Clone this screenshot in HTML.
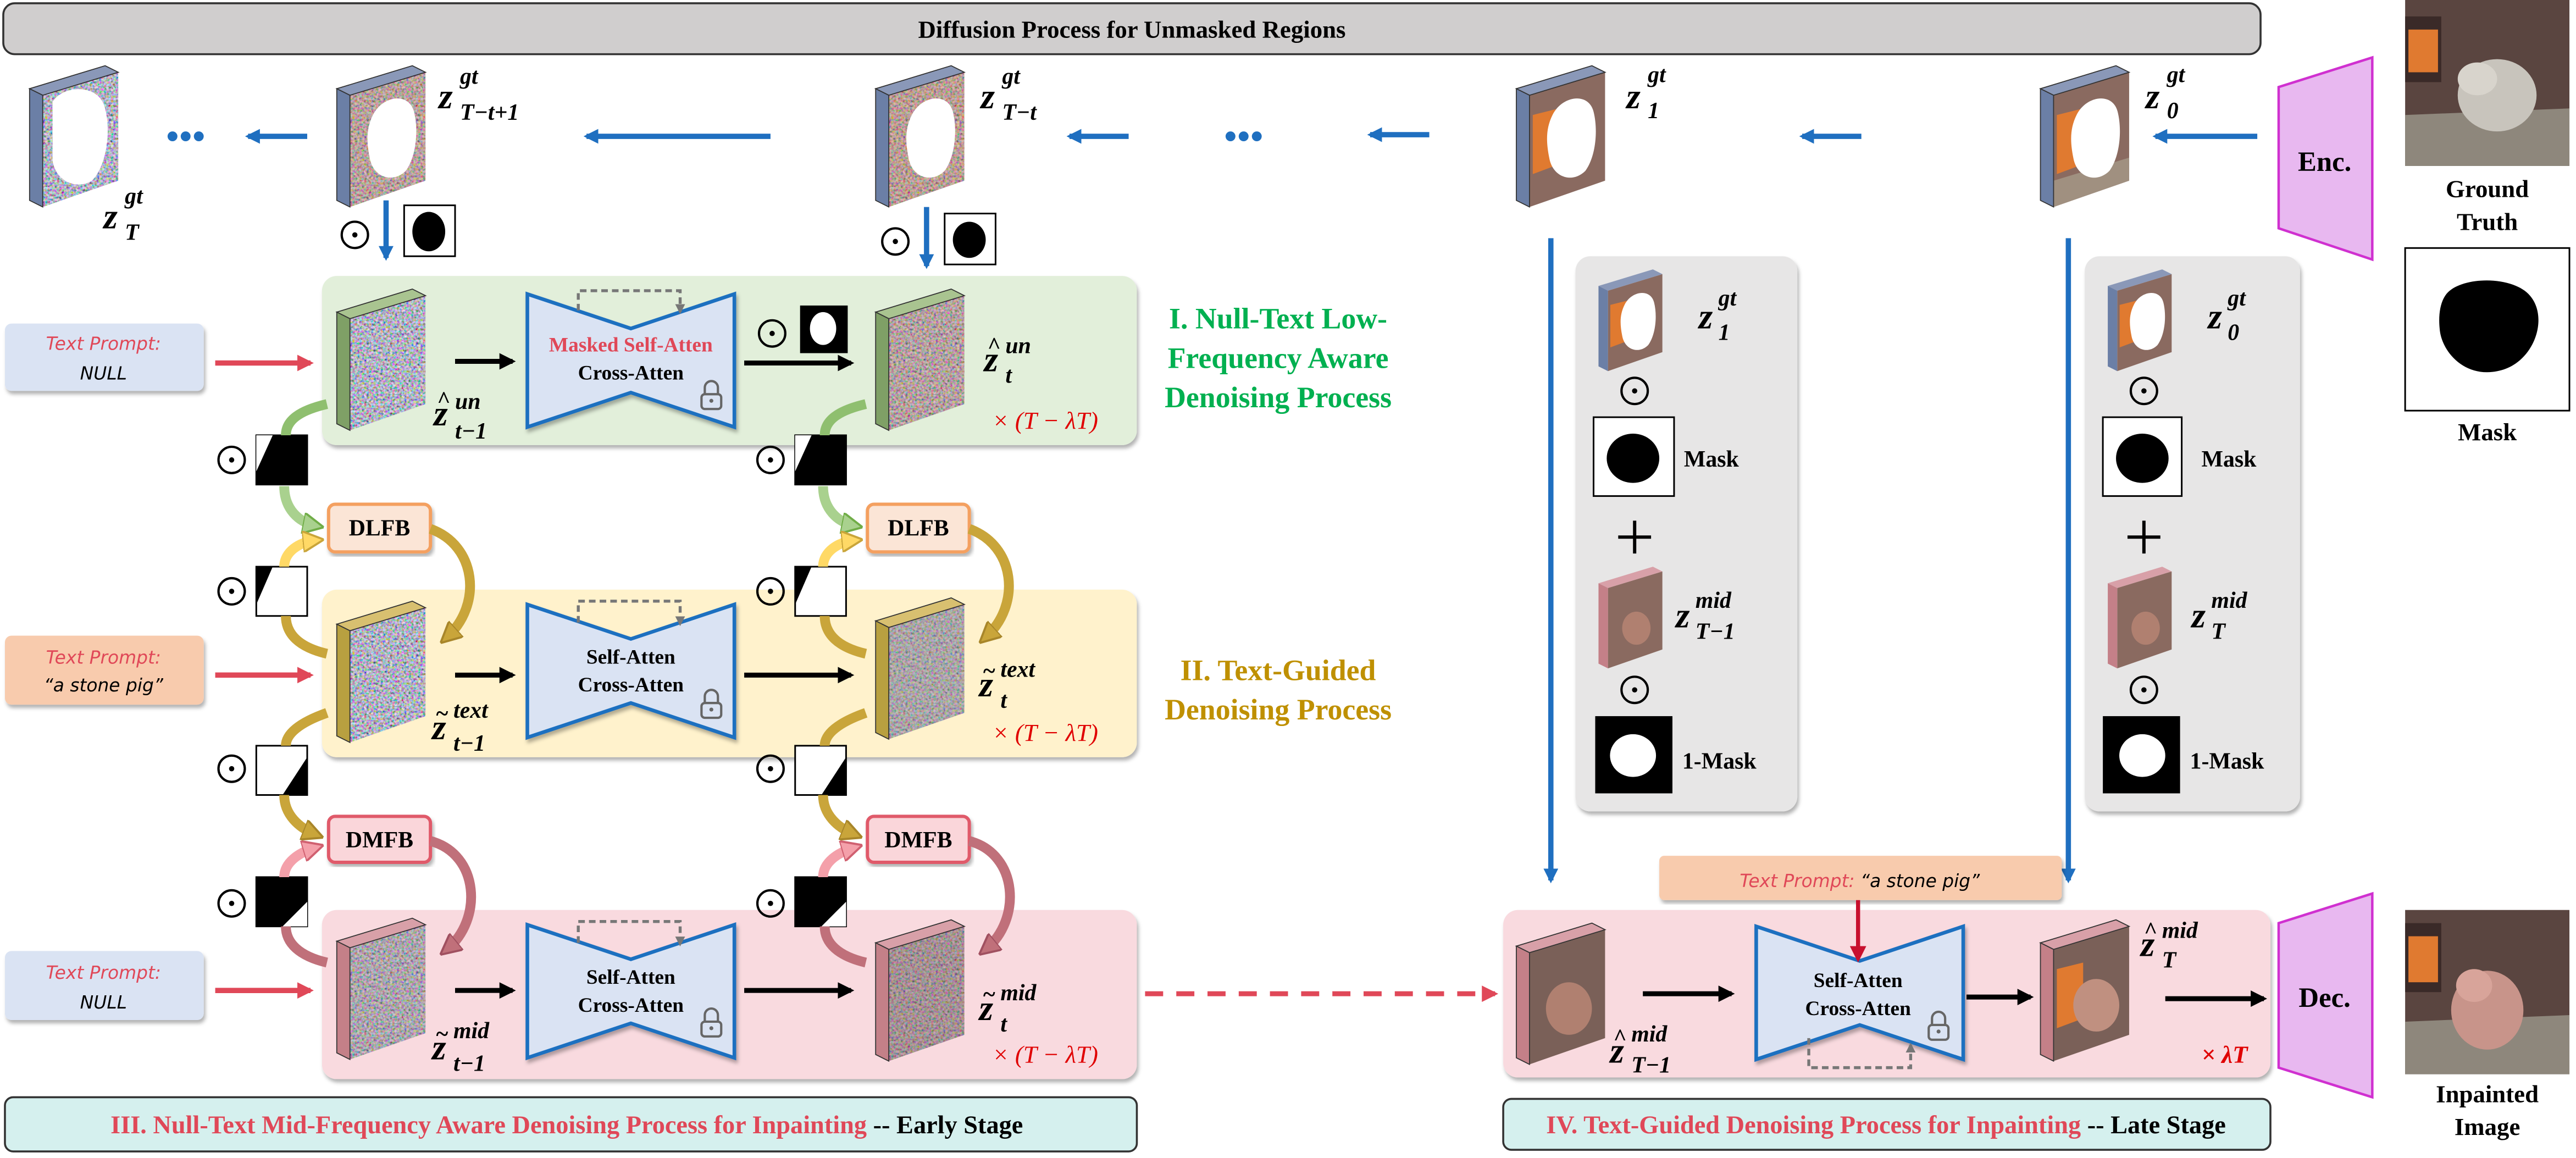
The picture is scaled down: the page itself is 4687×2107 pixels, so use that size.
<!DOCTYPE html>
<html><head><meta charset="utf-8"><style>
html,body{margin:0;padding:0;background:#fff;}
svg{display:block;}
.b{font-family:"Liberation Serif",serif;font-weight:bold;}
.m{font-family:"Liberation Serif",serif;font-weight:bold;font-style:italic;font-size:22px;}
.s{font-family:"Liberation Serif",serif;font-weight:bold;font-style:italic;font-size:14px;}
.tp{font-family:"DejaVu Sans",sans-serif;font-size:11px;font-style:italic;}
</style></head><body>
<svg width="4687" height="2107" viewBox="0 0 1568 705" preserveAspectRatio="none" xmlns="http://www.w3.org/2000/svg">
<defs>
<filter id="nz" x="0" y="0" width="1" height="1" filterUnits="objectBoundingBox">
<feTurbulence type="fractalNoise" baseFrequency="0.7" numOctaves="2" seed="4"/>
<feColorMatrix type="matrix" values="1.6 0 0 0 -0.35  0 1.4 0 0 -0.25  0 0 1.7 0 -0.3  0 0 0 0 1"/>
<feComposite operator="in" in2="SourceGraphic"/>
</filter>
<filter id="sh" x="-5%" y="-5%" width="110%" height="115%"><feDropShadow dx="1" dy="2" stdDeviation="1.2" flood-color="#000" flood-opacity="0.3"/></filter>
<polygon id="fr" points="8,18 54,4 54,70 8,86"/>
<polygon id="tp" points="0,14 46,0 54,4 8,18"/>
<polygon id="sd" points="0,14 8,18 8,86 0,82"/>
<g id="face"><use href="#fr" fill="#888" filter="url(#nz)"/></g>
<path id="hole" d="M22,30 C28,18 44,16 47,28 C50,40 48,56 42,64 C34,72 22,68 20,56 C18,46 18,38 22,30Z" fill="#fff"/>
<marker id="ab" viewBox="0 0 10 10" refX="8" refY="5" markerWidth="9" markerHeight="9" markerUnits="userSpaceOnUse" orient="auto"><path d="M0,0 L10,5 L0,10Z" fill="#1f6fc0"/></marker>
<marker id="ak" viewBox="0 0 10 10" refX="8" refY="5" markerWidth="10" markerHeight="10" markerUnits="userSpaceOnUse" orient="auto"><path d="M0,0 L10,5 L0,10Z" fill="#000"/></marker>
<marker id="ar" viewBox="0 0 10 10" refX="8" refY="5" markerWidth="10" markerHeight="10" markerUnits="userSpaceOnUse" orient="auto"><path d="M0,0 L10,5 L0,10Z" fill="#e04858"/></marker>
<marker id="ar2" viewBox="0 0 10 10" refX="8" refY="5" markerWidth="10" markerHeight="10" markerUnits="userSpaceOnUse" orient="auto"><path d="M0,0 L10,5 L0,10Z" fill="#c8102e"/></marker>
<marker id="ag" viewBox="0 0 10 10" refX="8" refY="5" markerWidth="6" markerHeight="6" markerUnits="userSpaceOnUse" orient="auto"><path d="M0,0 L10,5 L0,10Z" fill="#777"/></marker>
<marker id="hg" viewBox="0 0 10 10" refX="6" refY="5" markerWidth="13" markerHeight="13" markerUnits="userSpaceOnUse" orient="auto"><path d="M0,0 L10,5 L0,10Z" fill="#a9d18e" stroke="#70ad47"/></marker>
<marker id="hy" viewBox="0 0 10 10" refX="6" refY="5" markerWidth="13" markerHeight="13" markerUnits="userSpaceOnUse" orient="auto"><path d="M0,0 L10,5 L0,10Z" fill="#ffd966" stroke="#c9a53a"/></marker>
<marker id="ho" viewBox="0 0 10 10" refX="6" refY="5" markerWidth="13" markerHeight="13" markerUnits="userSpaceOnUse" orient="auto"><path d="M0,0 L10,5 L0,10Z" fill="#c9a53a" stroke="#a8862a"/></marker>
<marker id="hp" viewBox="0 0 10 10" refX="6" refY="5" markerWidth="13" markerHeight="13" markerUnits="userSpaceOnUse" orient="auto"><path d="M0,0 L10,5 L0,10Z" fill="#f4a0aa" stroke="#d06070"/></marker>
<marker id="hq" viewBox="0 0 10 10" refX="6" refY="5" markerWidth="13" markerHeight="13" markerUnits="userSpaceOnUse" orient="auto"><path d="M0,0 L10,5 L0,10Z" fill="#c0707a" stroke="#a05060"/></marker>
<g id="od"><circle r="8" fill="none" stroke="#000" stroke-width="1.4"/><circle r="1.6" fill="#000"/></g>
<g id="lock"><path d="M-4,0 V-4 A4,4 0 0 1 4,-4 V0" fill="none" stroke="#666" stroke-width="1.4"/><rect x="-6" y="0" width="12" height="9" rx="2" fill="none" stroke="#666" stroke-width="1.4"/><circle cy="4" r="1.2" fill="#666"/></g>
<g id="col">
 <use href="#od" x="141" y="280"/>
 <rect x="156" y="265" width="31" height="30" fill="#000" stroke="#000"/><polygon points="156,265 166,265 156,287" fill="#fff"/>
 <use href="#od" x="141" y="360"/>
 <rect x="156" y="345" width="31" height="30" fill="#fff" stroke="#000"/><polygon points="156,345 166,345 156,368" fill="#000"/>
 <use href="#od" x="141" y="468"/>
 <rect x="156" y="454" width="31" height="30" fill="#fff" stroke="#000"/><polygon points="187,461 187,484 172,484" fill="#000"/>
 <use href="#od" x="141" y="550"/>
 <rect x="156" y="534" width="31" height="30" fill="#000" stroke="#000"/><polygon points="187,549 187,564 172,564" fill="#fff"/>
 <rect x="200" y="307" width="62" height="29" rx="4" fill="#fbe5d6" stroke="#f4a060" stroke-width="2" filter="url(#sh)"/>
 <text x="231" y="326" class="b" font-size="14" text-anchor="middle">DLFB</text>
 <rect x="200" y="497" width="62" height="28" rx="4" fill="#fad6da" stroke="#e05a6a" stroke-width="2" filter="url(#sh)"/>
 <text x="231" y="516" class="b" font-size="14" text-anchor="middle">DMFB</text>
 <path d="M199,246 C182,250 174,256 174,265" fill="none" stroke="#8fbf6f" stroke-width="6"/>
 <path d="M173,296 C173,310 182,318 192,320" fill="none" stroke="#a9d18e" stroke-width="6" marker-end="url(#hg)"/>
 <path d="M199,398 C182,394 174,386 174,375" fill="none" stroke="#c9a53a" stroke-width="6"/>
 <path d="M173,345 C173,336 182,330 192,329" fill="none" stroke="#ffd966" stroke-width="6" marker-end="url(#hy)"/>
 <path d="M262,322 C290,332 294,368 272,388" fill="none" stroke="#c9a53a" stroke-width="6" marker-end="url(#ho)"/>
 <path d="M199,434 C182,440 174,447 174,454" fill="none" stroke="#c9a53a" stroke-width="6"/>
 <path d="M173,484 C173,496 182,504 192,508" fill="none" stroke="#c9a53a" stroke-width="6" marker-end="url(#ho)"/>
 <path d="M199,586 C182,582 174,574 174,564" fill="none" stroke="#c0707a" stroke-width="6"/>
 <path d="M173,534 C173,525 182,519 192,516" fill="none" stroke="#f4a0aa" stroke-width="6" marker-end="url(#hp)"/>
 <path d="M262,512 C292,520 294,560 272,578" fill="none" stroke="#c0707a" stroke-width="6" marker-end="url(#hq)"/>
</g>
<g id="unet">
 <polygon points="0,0 63,21 126,0 126,81 63,60 0,81" fill="#dae3f3" stroke="#1f6fc0" stroke-width="2.2" filter="url(#sh)"/>
</g>
</defs>

<rect x="2" y="2" width="1374" height="31" rx="7" fill="#d0cece" stroke="#333" stroke-width="1.2"/>
<text x="689" y="23" class="b" font-size="15" text-anchor="middle">Diffusion Process for Unmasked Regions</text>

<g transform="translate(18,40)"><use href="#face"/><path d="M14,22 C20,12 42,10 46,26 C50,42 46,62 38,70 C28,76 16,70 14,58Z" fill="#fff"/><use href="#tp" fill="#8a98b8" stroke="#333" stroke-width="0.6"/><use href="#sd" fill="#6b7fa6" stroke="#333" stroke-width="0.6"/></g>
<g transform="translate(205,40)"><use href="#face"/><use href="#fr" fill="#d07030" opacity="0.25"/><use href="#hole"/><use href="#tp" fill="#8a98b8" stroke="#333" stroke-width="0.6"/><use href="#sd" fill="#6b7fa6" stroke="#333" stroke-width="0.6"/></g>
<g transform="translate(533,40)"><use href="#face"/><use href="#fr" fill="#d07030" opacity="0.3"/><use href="#hole"/><use href="#tp" fill="#8a98b8" stroke="#333" stroke-width="0.6"/><use href="#sd" fill="#6b7fa6" stroke="#333" stroke-width="0.6"/></g>
<g transform="translate(923,40)"><use href="#fr" fill="#8a6a60"/><polygon points="10,30 26,26 26,60 10,66" fill="#e07a30"/><use href="#hole"/><use href="#tp" fill="#8a98b8" stroke="#333" stroke-width="0.6"/><use href="#sd" fill="#6b7fa6" stroke="#333" stroke-width="0.6"/></g>
<g transform="translate(1242,40)"><use href="#fr" fill="#8a6a60"/><polygon points="10,30 26,26 26,60 10,66" fill="#e07a30"/><polygon points="8,70 54,56 54,70 8,86" fill="#a09080"/><use href="#hole"/><use href="#tp" fill="#8a98b8" stroke="#333" stroke-width="0.6"/><use href="#sd" fill="#6b7fa6" stroke="#333" stroke-width="0.6"/></g>

<text x="63" y="139" class="m">z</text><text x="76" y="124" class="s">gt</text><text x="76" y="146" class="s">T</text>
<text x="267" y="66" class="m">z</text><text x="280" y="51" class="s">gt</text><text x="280" y="73" class="s">T−t+1</text>
<text x="597" y="66" class="m">z</text><text x="610" y="51" class="s">gt</text><text x="610" y="73" class="s">T−t</text>
<text x="990" y="66" class="m">z</text><text x="1003" y="50" class="s">gt</text><text x="1003" y="72" class="s">1</text>
<text x="1306" y="66" class="m">z</text><text x="1319" y="50" class="s">gt</text><text x="1319" y="72" class="s">0</text>

<g stroke="#1f6fc0" stroke-width="3.2" fill="none" marker-end="url(#ab)">
<line x1="187" y1="83" x2="151" y2="83"/><line x1="469" y1="83" x2="357" y2="83"/><line x1="687" y1="83" x2="651" y2="83"/>
<line x1="870" y1="82" x2="834" y2="82"/><line x1="1133" y1="83" x2="1097" y2="83"/><line x1="1374" y1="83" x2="1312" y2="83"/>
<line x1="235" y1="122" x2="235" y2="157"/><line x1="564" y1="126" x2="564" y2="162"/>
<line x1="944" y1="145" x2="944" y2="536"/><line x1="1259" y1="145" x2="1259" y2="536"/>
</g>
<g fill="#1f6fc0"><circle cx="105" cy="83" r="3"/><circle cx="113" cy="83" r="3"/><circle cx="121" cy="83" r="3"/>
<circle cx="749" cy="83" r="3"/><circle cx="757" cy="83" r="3"/><circle cx="765" cy="83" r="3"/></g>
<use href="#od" x="216" y="143"/>
<rect x="246" y="125" width="31" height="31" fill="#fff" stroke="#000"/><ellipse cx="261" cy="141" rx="10" ry="12" fill="#000"/>
<use href="#od" x="545" y="147"/>
<rect x="575" y="130" width="31" height="31" fill="#fff" stroke="#000"/><ellipse cx="590" cy="146" rx="10" ry="11" fill="#000"/>

<rect x="196" y="168" width="496" height="103" rx="9" fill="#e2efda" filter="url(#sh)"/>
<rect x="196" y="359" width="496" height="102" rx="9" fill="#fff2cc" filter="url(#sh)"/>
<rect x="196" y="554" width="496" height="103" rx="9" fill="#f9dadf" filter="url(#sh)"/>

<use href="#col"/>
<use href="#col" x="328"/>

<rect x="3" y="197" width="121" height="41" rx="4" fill="#dae3f3" filter="url(#sh)"/>
<text x="63" y="213" class="tp" font-size="13" fill="#e04858" text-anchor="middle">Text Prompt:</text><text x="63" y="231" class="tp" font-size="12" text-anchor="middle">NULL</text>
<rect x="3" y="387" width="121" height="42" rx="4" fill="#f8cbad" filter="url(#sh)"/>
<text x="63" y="404" class="tp" font-size="13" fill="#e04858" text-anchor="middle">Text Prompt:</text><text x="63" y="421" class="tp" font-size="12" text-anchor="middle">“a stone pig”</text>
<rect x="3" y="579" width="121" height="42" rx="4" fill="#dae3f3" filter="url(#sh)"/>
<text x="63" y="596" class="tp" font-size="13" fill="#e04858" text-anchor="middle">Text Prompt:</text><text x="63" y="614" class="tp" font-size="12" text-anchor="middle">NULL</text>
<g stroke="#e04858" stroke-width="3.2" marker-end="url(#ar)">
<line x1="131" y1="221" x2="189" y2="221"/><line x1="131" y1="411" x2="189" y2="411"/><line x1="131" y1="603" x2="189" y2="603"/>
</g>

<g transform="translate(205,176)"><use href="#face"/><use href="#tp" fill="#a9c490" stroke="#333" stroke-width="0.6"/><use href="#sd" fill="#7fa066" stroke="#333" stroke-width="0.6"/></g>
<g transform="translate(533,176)"><use href="#face"/><use href="#fr" fill="#c07040" opacity="0.25"/><use href="#tp" fill="#a9c490" stroke="#333" stroke-width="0.6"/><use href="#sd" fill="#7fa066" stroke="#333" stroke-width="0.6"/></g>
<g transform="translate(205,366)"><use href="#face"/><use href="#tp" fill="#d8c070" stroke="#333" stroke-width="0.6"/><use href="#sd" fill="#b8a040" stroke="#333" stroke-width="0.6"/></g>
<g transform="translate(533,364)"><use href="#face"/><use href="#fr" fill="#a09080" opacity="0.4"/><use href="#tp" fill="#d8c070" stroke="#333" stroke-width="0.6"/><use href="#sd" fill="#b8a040" stroke="#333" stroke-width="0.6"/></g>
<g transform="translate(205,559)"><use href="#face"/><use href="#fr" fill="#a08070" opacity="0.25"/><use href="#tp" fill="#d8a0a8" stroke="#333" stroke-width="0.6"/><use href="#sd" fill="#c48088" stroke="#333" stroke-width="0.6"/></g>
<g transform="translate(533,560)"><use href="#face"/><use href="#fr" fill="#906050" opacity="0.4"/><use href="#tp" fill="#d8a0a8" stroke="#333" stroke-width="0.6"/><use href="#sd" fill="#c48088" stroke="#333" stroke-width="0.6"/></g>

<use href="#unet" x="321" y="179"/><use href="#unet" x="321" y="368"/><use href="#unet" x="321" y="563"/>
<g fill="none" stroke="#777" stroke-width="1.8" stroke-dasharray="4,2.5" marker-end="url(#ag)">
<path d="M352,189 V177 H414 V190"/><path d="M352,379 V366 H414 V380"/><path d="M352,574 V561 H414 V575"/>
</g>
<text x="384" y="214" class="b" font-size="12.5" fill="#e04858" text-anchor="middle">Masked Self-Atten</text>
<text x="384" y="231" class="b" font-size="12.5" text-anchor="middle">Cross-Atten</text>
<text x="384" y="404" class="b" font-size="12.5" text-anchor="middle">Self-Atten</text>
<text x="384" y="421" class="b" font-size="12.5" text-anchor="middle">Cross-Atten</text>
<text x="384" y="599" class="b" font-size="12.5" text-anchor="middle">Self-Atten</text>
<text x="384" y="616" class="b" font-size="12.5" text-anchor="middle">Cross-Atten</text>
<use href="#lock" x="433" y="240"/><use href="#lock" x="433" y="428"/><use href="#lock" x="433" y="622"/>

<g stroke="#000" stroke-width="3" marker-end="url(#ak)">
<line x1="277" y1="220" x2="312" y2="220"/><line x1="453" y1="221" x2="518" y2="221"/>
<line x1="277" y1="411" x2="312" y2="411"/><line x1="453" y1="411" x2="518" y2="411"/>
<line x1="277" y1="603" x2="312" y2="603"/><line x1="453" y1="603" x2="518" y2="603"/>
</g>
<use href="#od" x="470" y="203"/>
<rect x="487" y="186" width="29" height="29" fill="#000"/><ellipse cx="501" cy="200" rx="8" ry="10" fill="#fff"/>

<text x="264" y="259" class="m">z</text><text x="266" y="248" class="s">^</text><text x="277" y="249" class="s">un</text><text x="277" y="267" class="s">t−1</text>
<text x="599" y="226" class="m">z</text><text x="601" y="215" class="s">^</text><text x="612" y="215" class="s">un</text><text x="612" y="233" class="s">t</text>
<text x="263" y="450" class="m">z</text><text x="265" y="439" class="s">~</text><text x="276" y="437" class="s">text</text><text x="276" y="457" class="s">t−1</text>
<text x="596" y="424" class="m">z</text><text x="598" y="413" class="s">~</text><text x="609" y="412" class="s">text</text><text x="609" y="431" class="s">t</text>
<text x="263" y="645" class="m">z</text><text x="265" y="634" class="s">~</text><text x="276" y="632" class="s">mid</text><text x="276" y="652" class="s">t−1</text>
<text x="596" y="621" class="m">z</text><text x="598" y="610" class="s">~</text><text x="609" y="609" class="s">mid</text><text x="609" y="628" class="s">t</text>
<g font-family="Liberation Serif,serif" font-size="15" fill="#e00000" font-style="italic">
<text x="604" y="261">× (T − λT)</text><text x="604" y="451">× (T − λT)</text><text x="604" y="647">× (T − λT)</text>
</g>

<g class="b" font-size="18" fill="#00b050" text-anchor="middle">
<text x="778" y="200">I. Null-Text Low-</text><text x="778" y="224">Frequency Aware</text><text x="778" y="248">Denoising Process</text>
</g>
<g class="b" font-size="18" fill="#bf9000" text-anchor="middle">
<text x="778" y="414">II. Text-Guided</text><text x="778" y="438">Denoising Process</text>
</g>

<line x1="697" y1="605" x2="910" y2="605" stroke="#e04858" stroke-width="3" stroke-dasharray="11,8" marker-end="url(#ar)"/>

<rect x="3" y="668" width="689" height="33" rx="5" fill="#d5f0ee" stroke="#333" stroke-width="1.2"/>
<text x="345" y="690" class="b" font-size="15.5" text-anchor="middle"><tspan fill="#e04858">III.  Null-Text Mid-Frequency Aware Denoising Process for Inpainting</tspan> -- Early Stage</text>
<rect x="915" y="669" width="467" height="31" rx="5" fill="#d5f0ee" stroke="#333" stroke-width="1.2"/>
<text x="1148" y="690" class="b" font-size="15.5" text-anchor="middle"><tspan fill="#e04858">IV. Text-Guided Denoising Process for Inpainting</tspan> -- Late Stage</text>

<rect x="959" y="156" width="135" height="338" rx="9" fill="#e7e6e6" filter="url(#sh)"/>
<rect x="1269" y="156" width="131" height="338" rx="9" fill="#e7e6e6" filter="url(#sh)"/>
<g transform="translate(973,164) scale(0.72)"><use href="#fr" fill="#8a6a60"/><polygon points="10,30 26,26 26,60 10,66" fill="#e07a30"/><use href="#hole"/><use href="#tp" fill="#8a98b8"/><use href="#sd" fill="#6b7fa6"/></g>
<g transform="translate(973,345) scale(0.72)"><use href="#fr" fill="#8a6a60"/><ellipse cx="32" cy="52" rx="12" ry="14" fill="#b08070"/><use href="#tp" fill="#d8a0a8"/><use href="#sd" fill="#c48088"/></g>
<g transform="translate(1283,164) scale(0.72)"><use href="#fr" fill="#8a6a60"/><polygon points="10,30 26,26 26,60 10,66" fill="#e07a30"/><use href="#hole"/><use href="#tp" fill="#8a98b8"/><use href="#sd" fill="#6b7fa6"/></g>
<g transform="translate(1283,345) scale(0.72)"><use href="#fr" fill="#8a6a60"/><ellipse cx="32" cy="52" rx="12" ry="14" fill="#b08070"/><use href="#tp" fill="#d8a0a8"/><use href="#sd" fill="#c48088"/></g>
<text x="1034" y="200" class="m" font-size="19">z</text><text x="1046" y="186" class="s">gt</text><text x="1046" y="207" class="s">1</text>
<text x="1344" y="200" class="m" font-size="19">z</text><text x="1356" y="186" class="s">gt</text><text x="1356" y="207" class="s">0</text>
<text x="1020" y="382" class="m" font-size="19">z</text><text x="1032" y="370" class="s">mid</text><text x="1032" y="389" class="s">T−1</text>
<text x="1334" y="382" class="m" font-size="19">z</text><text x="1346" y="370" class="s">mid</text><text x="1346" y="389" class="s">T</text>
<use href="#od" x="995" y="238"/><use href="#od" x="995" y="420"/><use href="#od" x="1305" y="238"/><use href="#od" x="1305" y="420"/>
<g stroke="#000" stroke-width="2"><path d="M985,327 H1005 M995,317 V337"/><path d="M1295,327 H1315 M1305,317 V337"/></g>
<rect x="970" y="254" width="49" height="48" fill="#fff" stroke="#000"/><ellipse cx="994" cy="279" rx="16" ry="15" fill="#000"/>
<rect x="1280" y="254" width="48" height="48" fill="#fff" stroke="#000"/><ellipse cx="1304" cy="279" rx="16" ry="15" fill="#000"/>
<rect x="971" y="436" width="47" height="47" fill="#000"/><ellipse cx="994" cy="460" rx="14" ry="13" fill="#fff"/>
<rect x="1280" y="436" width="47" height="47" fill="#000"/><ellipse cx="1304" cy="460" rx="14" ry="13" fill="#fff"/>
<g class="b" font-size="14"><text x="1025" y="284">Mask</text><text x="1340" y="284">Mask</text><text x="1024" y="468">1-Mask</text><text x="1333" y="468">1-Mask</text></g>

<!-- stage IV -->
<rect x="915" y="554" width="467" height="102" rx="9" fill="#f9dadf" filter="url(#sh)"/>
<rect x="1010" y="521" width="245" height="27" rx="3" fill="#f8cbad" filter="url(#sh)"/>
<text x="1132" y="540" class="tp" font-size="14" text-anchor="middle"><tspan fill="#e04858">Text Prompt:</tspan> “a stone pig”</text>
<g transform="translate(923,562)"><use href="#fr" fill="#7a6058"/><ellipse cx="32" cy="52" rx="14" ry="16" fill="#b08070"/><use href="#tp" fill="#d8a0a8" stroke="#333" stroke-width="0.6"/><use href="#sd" fill="#c48088" stroke="#333" stroke-width="0.6"/></g>
<g transform="translate(1242,560)"><use href="#fr" fill="#7a6058"/><polygon points="10,30 26,26 26,60 10,66" fill="#e07a30"/><ellipse cx="34" cy="52" rx="14" ry="16" fill="#c09080"/><use href="#tp" fill="#d8a0a8" stroke="#333" stroke-width="0.6"/><use href="#sd" fill="#c48088" stroke="#333" stroke-width="0.6"/></g>
<use href="#unet" x="1069" y="564"/>
<path d="M1101,632 V650 H1163 V636" fill="none" stroke="#777" stroke-width="1.8" stroke-dasharray="4,2.5" marker-end="url(#ag)"/>
<text x="1131" y="601" class="b" font-size="12.5" text-anchor="middle">Self-Atten</text>
<text x="1131" y="618" class="b" font-size="12.5" text-anchor="middle">Cross-Atten</text>
<use href="#lock" x="1180" y="624"/>
<g stroke="#000" stroke-width="3" marker-end="url(#ak)">
<line x1="1000" y1="605" x2="1054" y2="605"/><line x1="1197" y1="607" x2="1236" y2="607"/><line x1="1318" y1="608" x2="1378" y2="608"/>
</g>
<line x1="1131" y1="548" x2="1131" y2="584" stroke="#c8102e" stroke-width="2.5" marker-end="url(#ar2)"/>
<text x="980" y="647" class="m">z</text><text x="982" y="636" class="s">^</text><text x="993" y="634" class="s">mid</text><text x="993" y="653" class="s">T−1</text>
<text x="1303" y="582" class="m">z</text><text x="1305" y="571" class="s">^</text><text x="1316" y="571" class="s">mid</text><text x="1316" y="589" class="s">T</text>
<text x="1340" y="647" font-family="Liberation Serif,serif" font-size="15" fill="#e00000" font-style="italic" font-weight="bold">× λT</text>

<polygon points="1387,53 1444,35 1444,158 1387,139" fill="#e8b8f0" stroke="#d030d0" stroke-width="1.5"/>
<text x="1415" y="104" class="b" font-size="17" text-anchor="middle">Enc.</text>
<polygon points="1387,562 1444,544 1444,668 1387,650" fill="#e8b8f0" stroke="#d030d0" stroke-width="1.5"/>
<text x="1415" y="613" class="b" font-size="17" text-anchor="middle">Dec.</text>

<g>
<rect x="1464" y="0" width="100" height="101" fill="#5a4540"/>
<rect x="1464" y="10" width="22" height="40" fill="#3a2a28"/><rect x="1466" y="18" width="18" height="26" fill="#e07a30"/>
<polygon points="1464,70 1564,66 1564,101 1464,101" fill="#8e877c"/>
<ellipse cx="1520" cy="58" rx="24" ry="22" fill="#c8c4bc"/><ellipse cx="1508" cy="48" rx="12" ry="10" fill="#d8d4cc"/>
</g>
<g class="b" font-size="15" text-anchor="middle"><text x="1514" y="120">Ground</text><text x="1514" y="140">Truth</text><text x="1514" y="268">Mask</text><text x="1514" y="671">Inpainted</text><text x="1514" y="691">Image</text></g>
<rect x="1464" y="151" width="100" height="99" fill="#fff" stroke="#000"/>
<path d="M1490,178 C1500,168 1530,168 1540,180 C1552,194 1542,222 1520,226 C1500,230 1486,214 1485,200 C1484,190 1486,182 1490,178Z" fill="#000"/>
<g>
<rect x="1464" y="554" width="100" height="100" fill="#5a4540"/>
<rect x="1464" y="562" width="22" height="42" fill="#3a2a28"/><rect x="1466" y="570" width="18" height="28" fill="#e07a30"/>
<polygon points="1464,622 1564,618 1564,654 1464,654" fill="#8e877c"/>
<ellipse cx="1514" cy="615" rx="22" ry="24" fill="#c8948a"/><ellipse cx="1506" cy="600" rx="11" ry="10" fill="#d8a49a"/>
</g>
</svg>
</body></html>
